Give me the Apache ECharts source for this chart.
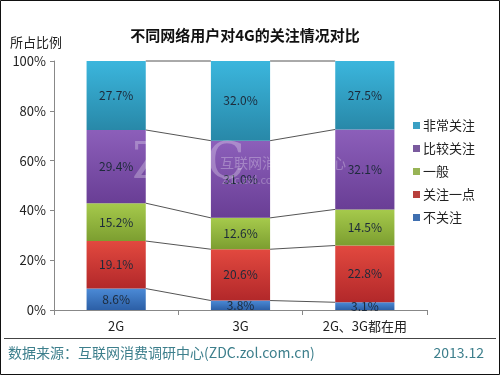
<!DOCTYPE html>
<html><head><meta charset="utf-8">
<script src="https://cdn.jsdelivr.net/npm/echarts@6/dist/echarts.min.js"></script>
<style>html,body{margin:0;padding:0;background:#fff}#c{width:500px;height:375px}</style>
</head><body><div id="c"></div>
<script>
var categories = ['2G', '3G', '2G、3G都在用'];
var seriesNames = ['不关注', '关注一点', '一般', '比较关注', '非常关注'];
var notCare = [8.6, 3.8, 3.1];
var littleCare = [19.1, 20.6, 22.8];
var normal = [15.2, 12.6, 14.5];
var fairlyCare = [29.4, 31.0, 32.1];
var veryCare = [27.7, 32.0, 27.5];
var yTicks = [0, 20, 40, 60, 80, 100];

var values = [notCare, littleCare, normal, fairlyCare, veryCare];
var colors = [
  ['#4b8ad6', '#2c5fa6'],
  ['#e2493f', '#b2282a'],
  ['#a6ca4c', '#7c9e30'],
  ['#8c5fba', '#693e95'],
  ['#3bb6dd', '#2888a8']
];
var legendColors = ['#3f6fb0', '#b8403c', '#98b455', '#7a5a9e', '#3aa0c4'];
var FONT = '"Noto Sans CJK SC", "Noto Sans", sans-serif';
var BW = 0.476;

var series = values.map(function (v, k) {
  return {
    name: seriesNames[k],
    type: 'bar',
    stack: 'total',
    barWidth: (BW * 100) + '%',
    data: v,
    itemStyle: {
      color: new echarts.graphic.LinearGradient(0, 0, 0, 1, [
        {offset: 0, color: colors[k][0]}, {offset: 1, color: colors[k][1]}
      ])
    },
    label: {
      show: true, position: 'inside', color: '#1d2a3a', fontSize: 12, fontFamily: FONT,
      formatter: function (p) { return p.value.toFixed(1) + '%'; }
    },
    z: 2
  };
});

series.push({
  type: 'custom',
  name: 'lines',
  coordinateSystem: 'cartesian2d',
  silent: true,
  z: 1,
  data: [[0, 0], [1, 0]],
  renderItem: function (params, api) {
    var i = api.value(0);
    var half = api.size([1, 0])[0] * BW / 2;
    var children = [];
    var c1 = 0, c2 = 0;
    for (var k = 0; k < values.length; k++) {
      c1 += values[k][i];
      c2 += values[k][i + 1];
      var p1 = api.coord([i, c1]);
      var p2 = api.coord([i + 1, c2]);
      children.push({
        type: 'line',
        shape: {x1: p1[0] + half, y1: p1[1], x2: p2[0] - half, y2: p2[1]},
        style: {stroke: '#555', lineWidth: 1}
      });
    }
    return {type: 'group', children: children};
  }
});

var chart = echarts.init(document.getElementById('c'));
chart.setOption({
  animation: false,
  backgroundColor: '#fff',
  title: {
    text: '不同网络用户对4G的关注情况对比',
    left: 240, top: 23, textAlign: 'center',
    textStyle: {fontSize: 15, fontWeight: 'bold', color: '#111', fontFamily: FONT}
  },
  legend: {
    orient: 'vertical', left: 408, top: 114, itemGap: 10,
    itemWidth: 7, itemHeight: 7, icon: 'rect',
    data: seriesNames.slice().reverse().map(function (n) {
      var k = seriesNames.indexOf(n);
      return {name: n, itemStyle: {color: legendColors[k]}};
    }),
    textStyle: {fontSize: 13, color: '#222', fontFamily: FONT, padding: [0, 0, 0, -2]}
  },
  grid: {left: 54, right: 73, top: 61, bottom: 65},
  xAxis: {
    type: 'category', data: categories,
    axisLine: {lineStyle: {color: '#888'}},
    axisTick: {show: true, length: 5, lineStyle: {color: '#888'}},
    axisLabel: {fontSize: 13, color: '#222', fontFamily: FONT, margin: 10}
  },
  yAxis: {
    type: 'value', min: 0, max: 100, interval: 20,
    name: '所占比例', nameLocation: 'end', nameGap: 12,
    nameTextStyle: {fontSize: 13, color: '#222', fontFamily: FONT, align: 'right', padding: [0, -8, 0, 0]},
    axisLine: {show: true, lineStyle: {color: '#888'}},
    axisTick: {show: true, length: 4, lineStyle: {color: '#888'}},
    splitLine: {show: false},
    axisLabel: {fontSize: 13, color: '#222', fontFamily: FONT, margin: 8,
      formatter: function (v) { return yTicks.indexOf(v) >= 0 ? v + '%' : ''; }}
  },
  graphic: [
    {type: 'rect', shape: {x: 0.5, y: 0.5, width: 499, height: 374}, style: {fill: null, stroke: '#111', lineWidth: 1}, silent: true},
    {type: 'line', shape: {x1: 4, y1: 338.5, x2: 496, y2: 338.5}, style: {stroke: '#444', lineWidth: 1}},
    {type: 'text', left: 8, top: 346, style: {text: '数据来源：互联网消费调研中心(ZDC.zol.com.cn)', fontSize: 14, fill: '#3d7f8c', fontFamily: FONT}},
    {type: 'text', right: 16, top: 346, style: {text: '2013.12', fontSize: 14, fill: '#3d7f8c', fontFamily: FONT}},
    {type: 'text', left: 132, top: 140, z: 10, style: {text: 'ZDC', fontSize: 50, fill: 'rgba(255,255,255,0.28)', fontFamily: '"DejaVu Serif", serif'}},
    {type: 'text', left: 220, top: 156, z: 10, style: {text: '互联网消费调研中心', fontSize: 14, fill: 'rgba(255,255,255,0.28)', fontFamily: FONT}},
    {type: 'text', left: 222, top: 174, z: 10, style: {text: 'zdc.zol.com.cn', fontSize: 11, fill: 'rgba(255,255,255,0.28)', fontFamily: FONT}}
  ],
  series: series
});
</script></body></html>
